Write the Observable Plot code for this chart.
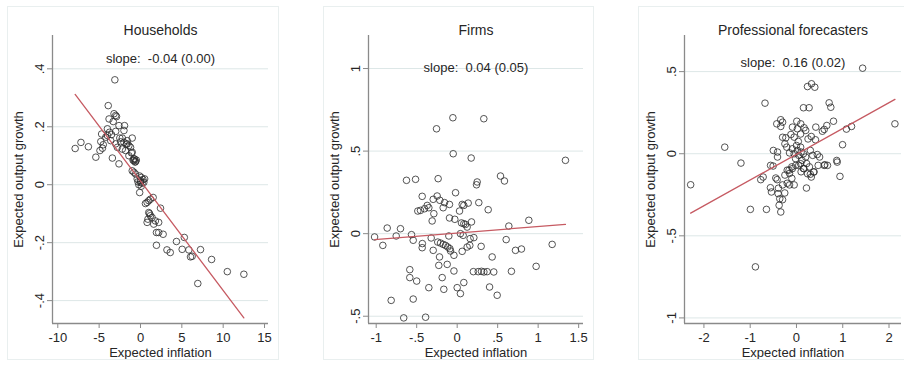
<!DOCTYPE html>
<html>
<head>
<meta charset="utf-8">
<script src="https://cdn.jsdelivr.net/npm/d3@7"></script>
<script src="https://cdn.jsdelivr.net/npm/@observablehq/plot@0.6"></script>
<style>
  html, body { margin: 0; padding: 0; background: #fff; }
  #wrap { position: relative; width: 904px; height: 367px; overflow: hidden; background: #fff; }
  .panel { position: absolute; top: 7px; height: 352px; outline: 1px solid #e9efef; background: #fff; }
  .panel svg { display: block; }
  svg text { white-space: pre; }
</style>
</head>
<body>
<div id="wrap"></div>
<script>
// ---------- data ----------
const panelTitles = ["Households", "Firms", "Professional forecasters"];
const slopeLabels = ["slope:  -0.04 (0.00)", "slope:  0.04 (0.05)", "slope:  0.16 (0.02)"];
const xLabel = "Expected inflation";
const yLabel = "Expected output growth";

// fitted line: y = intercept + slope * x
const fitIntercepts = [0.013, 0.004, -0.003];
const fitSlopes = [-0.0378, 0.039, 0.157];

// [expected inflation, expected output growth]
const households = [
  [-7.9,0.125],[-7.2,0.146],[-6.3,0.131],[-5.4,0.095],[-4.9,0.118],[-4.6,0.126],[-4.8,0.149],[-4.7,0.175],
  [-4.5,0.138],[-4.2,0.164],[-4.0,0.170],[-4.0,0.193],[-3.9,0.273],[-3.8,0.227],[-3.75,0.181],[-3.6,0.152],
  [-3.5,0.173],[-3.4,0.092],[-3.3,0.218],[-3.2,0.245],[-3.1,0.362],[-3.0,0.239],[-2.9,0.235],[-3.0,0.184],
  [-3.0,0.141],[-2.8,0.129],[-2.6,0.204],[-2.6,0.072],[-2.5,0.161],[-2.4,0.148],[-2.2,0.161],[-2.2,0.123],
  [-2.0,0.187],[-2.0,0.146],[-1.93,0.204],[-1.8,0.118],[-1.7,0.140],[-1.6,0.152],[-1.6,0.141],[-1.4,0.135],
  [-1.4,0.100],[-1.2,0.129],[-1.1,0.110],[-1.0,0.161],[-1.0,0.112],[-0.9,0.085],[-0.8,0.083],[-0.7,0.088],
  [-0.6,0.080],[-0.8,0.090],[-0.5,0.085],[-0.65,0.078],[-1.0,0.048],[-0.6,0.037],[-0.8,0.043],[-0.4,0.020],
  [-0.3,0.010],[0,0.014],[0.1,0.025],[0.2,0.005],[0.3,0.018],[-0.1,0.030],[0.4,0.008],[0.5,0.020],
  [-0.2,0.000],[0.1,-0.005],[0.0,0.008],[-0.1,-0.027],[0.6,-0.065],[0.8,-0.061],[1.0,-0.055],[1.2,-0.05],
  [1.53,-0.044],[0.8,-0.130],[0.9,-0.119],[1.0,-0.096],[1.1,-0.100],[1.2,-0.107],[1.4,-0.113],[1.6,-0.136],
  [1.8,-0.125],[2.2,-0.130],[2.42,-0.081],[1.93,-0.165],[2.2,-0.165],[2.74,-0.171],[1.93,-0.209],[3.2,-0.225],
  [3.6,-0.234],[4.35,-0.196],[5.04,-0.223],[5.3,-0.182],[5.85,-0.225],[6.05,-0.249],[6.25,-0.247],[7.26,-0.224],
  [6.93,-0.341],[8.6,-0.258],[10.5,-0.3],[12.5,-0.309]
];

const firms = [
  [-0.053,0.702],[0.329,0.696],[-0.255,0.635],[-0.049,0.484],[0.173,0.458],[1.337,0.444],[0.535,0.349],[0.584,0.319],
  [-0.626,0.323],[-0.514,0.329],[-0.235,0.333],[0.247,0.313],[0.239,0.296],[-0.02,0.248],[-0.432,0.226],[-0.247,0.228],
  [-0.296,0.208],[-0.214,0.202],[-0.156,0.188],[-0.095,0.177],[0.062,0.177],[0.082,0.171],[0.136,0.185],[0.267,0.188],
  [-0.37,0.171],[-0.35,0.157],[-0.403,0.151],[-0.173,0.157],[0.383,0.145],[-0.486,0.137],[-0.453,0.141],[0.029,0.137],
  [-0.288,0.121],[-0.095,0.095],[-0.029,0.087],[-0.309,0.077],[0.053,0.065],[0.082,0.06],[0.103,0.056],[0.177,0.071],
  [0.123,0.04],[0.638,0.046],[0.885,0.081],[-0.864,0.034],[-0.7,0.03],[-0.753,-0.014],[-1.02,-0.02],[-0.564,-0.006],
  [-0.543,-0.04],[-0.918,-0.071],[-0.432,-0.085],[-0.321,-0.026],[-0.103,-0.014],[0.074,-0.01],[0.206,-0.024],[-0.296,-0.101],
  [-0.24,-0.051],[-0.206,-0.057],[-0.173,-0.065],[-0.144,-0.071],[-0.116,-0.081],[-0.09,-0.091],[-0.082,-0.105],[-0.04,-0.131],
  [-0.218,-0.141],[-0.123,-0.186],[-0.227,-0.192],[0.062,-0.107],[0.123,-0.081],[0.156,-0.071],[0.296,-0.077],[0.432,-0.141],
  [0.605,-0.036],[0.72,-0.101],[0.794,-0.093],[1.173,-0.065],[0.975,-0.198],[0.67,-0.228],[0.452,-0.232],[0.37,-0.23],
  [0.33,-0.232],[0.3,-0.228],[0.26,-0.23],[0.2,-0.23],[0.494,-0.373],[0.4,-0.323],[0.04,-0.363],[0.0,-0.327],
  [0.082,-0.296],[-0.04,-0.226],[-0.165,-0.337],[-0.185,-0.266],[-0.35,-0.327],[-0.585,-0.218],[-0.585,-0.266],[-0.5,-0.287],
  [-0.543,-0.396],[-0.815,-0.404],[-0.66,-0.51],[-0.39,-0.506],[0.04,0.0],[0.16,-0.03],[-0.43,-0.06]
];

const forecasters = [
  [1.43,0.521],[0.238,0.409],[0.325,0.426],[0.396,0.405],[-0.68,0.308],[0.151,0.28],[0.273,0.28],[0.706,0.31],
  [0.742,0.283],[0.8,0.198],[2.128,0.182],[1.19,0.166],[1.08,0.15],[0.007,0.198],[0.093,0.182],[-0.34,0.207],
  [-0.3,0.192],[-0.426,0.182],[-0.34,0.166],[-0.087,0.162],[0.02,0.152],[0.165,0.158],[0.2,0.142],[0.418,0.162],
  [0.56,0.137],[0.6,0.148],[0.656,0.172],[-0.12,0.117],[-0.23,0.097],[-0.05,0.101],[0.09,0.12],[0.25,0.09],
  [0.32,0.105],[0.41,0.085],[-0.21,0.04],[-0.09,0.03],[0.02,0.02],[0.09,0.04],[0.996,0.055],[-0.5,0.02],
  [-0.41,0.01],[-1.55,0.04],[-1.2,-0.057],[0.6,-0.071],[0.67,-0.071],[0.87,-0.041],[-0.56,-0.071],[-0.505,-0.075],
  [-0.05,0.0],[0.05,-0.01],[0.1,0.01],[0.15,0.0],[0.2,-0.02],[-0.15,0.005],[0.3,0.02],[0.35,-0.01],
  [0.45,-0.005],[0.5,-0.02],[0.12,-0.04],[0.22,-0.06],[0.28,-0.08],[0.38,-0.11],[0.15,-0.09],[0.05,-0.07],
  [-0.1,-0.08],[-0.2,-0.1],[-0.25,-0.13],[-0.15,-0.12],[-0.1,-0.15],[-0.2,-0.18],[-0.15,-0.19],[-0.05,-0.19],
  [-0.3,-0.19],[-0.39,-0.21],[-0.563,-0.207],[-0.541,-0.233],[-0.253,-0.239],[0.216,-0.209],[-0.397,-0.243],[-0.361,-0.274],
  [-0.3,-0.28],[-0.375,-0.314],[-0.339,-0.355],[-0.996,-0.339],[-0.649,-0.339],[-0.887,-0.689],[-0.772,-0.158],[-0.72,-0.142],
  [-0.447,-0.148],[-0.418,-0.158],[-2.287,-0.189],[0.94,-0.138],[0.88,-0.051],[0.469,-0.071],[0.613,-0.067],[0.3,-0.125],
  [0.1,-0.11],[-0.25,0.06],[-0.3,0.1],[-0.015,-0.071],[0.09,-0.061],[0.16,-0.091],[0.24,-0.122],[0.32,-0.142],
  [0.37,-0.112],[-0.16,-0.1],[-0.09,-0.091],[-0.41,-0.02],[0.0,0.05],[0.04,0.075],[-0.02,-0.03]
];

const datasets = [households, firms, forecasters];

// ticks and tick labels
const xTicks = [[-10,-5,0,5,10,15], [-1,-0.5,0,0.5,1,1.5], [-2,-1,0,1,2]];
const xTickLabels = [["-10","-5","0","5","10","15"], ["-1","-.5","0",".5","1","1.5"], ["-2","-1","0","1","2"]];
const yTicks = [[-0.4,-0.2,0,0.2,0.4], [-0.5,0,0.5,1], [-1,-0.5,0,0.5]];
const yTickLabels = [["-.4","-.2","0",".2",".4"], ["-.5","0",".5","1"], ["-1","-.5","0",".5"]];

// ---------- layout ----------
const layout = [
  {left: 8,   width: 270, ml: 44, xDomain: [-10.64, 15.48], yDomain: [-0.479, 0.515], slopeDy: 18},
  {left: 324, width: 269, ml: 44, xDomain: [-1.095, 1.56],  yDomain: [-0.544, 1.2],   slopeDy: 27},
  {left: 639, width: 272, ml: 45, xDomain: [-2.42, 2.27],   yDomain: [-1.034, 0.72],  slopeDy: 22}
];

const wrap = document.getElementById("wrap");
const font = "'Liberation Sans', Arial, Helvetica, sans-serif";
const axisGray = "#8a8a8a";

layout.forEach((L, k) => {
  const data = datasets[k];
  const ext = d3.extent(data, d => d[0]);
  const fit = ext.map(x => [x, fitIntercepts[k] + fitSlopes[k] * x]);
  const xt = xTicks[k], yt = yTicks[k];
  const chart = Plot.plot({
    width: L.width,
    height: 352,
    marginTop: 28,
    marginBottom: 36,
    marginLeft: L.ml,
    marginRight: 10,
    x: {domain: L.xDomain},
    y: {domain: L.yDomain},
    style: {fontFamily: font, fontSize: "13px", color: "#262626", background: "transparent"},
    marks: [
      Plot.gridY(yt, {stroke: "#dde7e7", strokeOpacity: 1, strokeWidth: 1}),
      Plot.axisY(yt, {
        tickRotate: -90, tickSize: 5, stroke: axisGray,
        tickFormat: d => yTickLabels[k][yt.indexOf(d)],
        label: yLabel, labelAnchor: "center", labelOffset: 39, labelArrow: "none"
      }),
      Plot.axisX(xt, {
        tickSize: 5, stroke: axisGray,
        tickFormat: d => xTickLabels[k][xt.indexOf(d)],
        label: xLabel, labelAnchor: "center", labelOffset: 33, labelArrow: "none"
      }),
      Plot.ruleX([L.xDomain[0]], {stroke: axisGray, strokeWidth: 1.3}),
      Plot.ruleY([L.yDomain[0]], {stroke: axisGray, strokeWidth: 1.3}),
      Plot.dot(data, {x: d => d[0], y: d => d[1], r: 3.3, stroke: "#2b2b2b", strokeOpacity: 0.8, strokeWidth: 1, fill: "none"}),
      Plot.line(fit, {x: d => d[0], y: d => d[1], stroke: "#c65a62", strokeWidth: 1.3}),
      Plot.text([slopeLabels[k]], {frameAnchor: "top", dy: L.slopeDy, fontSize: 13, fill: "#262626"}),
      Plot.text([panelTitles[k]], {frameAnchor: "top", dy: -10, fontSize: 14, fill: "#262626"})
    ]
  });
  const div = document.createElement("div");
  div.className = "panel";
  div.style.left = L.left + "px";
  div.style.width = L.width + "px";
  div.appendChild(chart);
  wrap.appendChild(div);
});
</script>
</body>
</html>
